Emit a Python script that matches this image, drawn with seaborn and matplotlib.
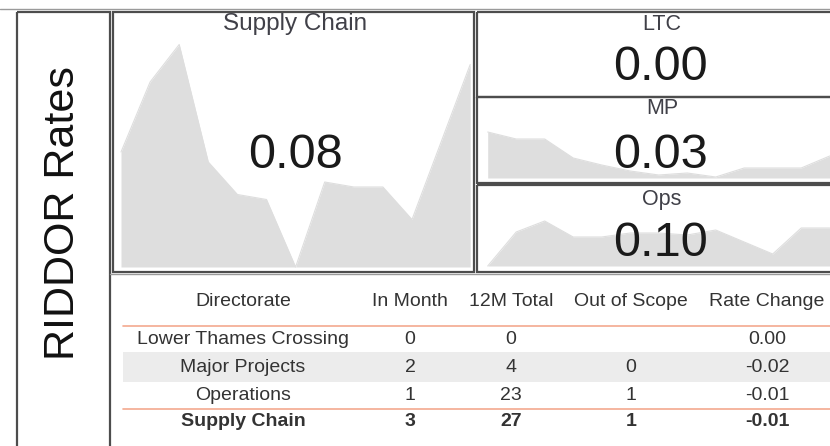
import matplotlib
matplotlib.use("Agg")
import numpy as np
import pandas as pd
import seaborn as sns
import matplotlib.pyplot as plt
from matplotlib.patches import Rectangle

# Data
panel_names = ["Supply Chain", "LTC", "MP", "Ops"]
panel_rates = ["0.08", "0.00", "0.03", "0.10"]

supply_chain_trend = [0.046, 0.074, 0.089, 0.042, 0.029, 0.027, 0.000,
                      0.034, 0.032, 0.032, 0.019, 0.050, 0.081]
ltc_trend = [0.0] * 13
mp_trend = [0.046, 0.039, 0.039, 0.020, 0.013, 0.007, 0.003,
            0.005, 0.001, 0.010, 0.010, 0.010, 0.022]
ops_trend = [0.000, 0.034, 0.045, 0.029, 0.029, 0.033, 0.033,
             0.031, 0.036, 0.024, 0.012, 0.038, 0.038]

table_headers = ["Directorate", "In Month", "12M Total", "Out of Scope", "Rate Change"]
directorates = ["Lower Thames Crossing", "Major Projects", "Operations", "Supply Chain"]
in_month = ["0", "2", "1", "3"]
total_12m = ["0", "4", "23", "27"]
out_of_scope = ["", "0", "1", "1"]
rate_change = ["0.00", "-0.02", "-0.01", "-0.01"]

# Style
sns.set_theme(style="white")
plt.rcParams['font.family'] = ['Liberation Sans', 'DejaVu Sans']

W, H = 830, 446
BORDER = "#4d4d4d"
FILL = "#dedede"
TEXT = "#333333"

fig = plt.figure(figsize=(W / 100, H / 100), dpi=100)


def px_axes(x0, y0, x1, y1, z=1):
    """Axes placed by pixel box (top-left origin)."""
    ax = fig.add_axes([x0 / W, 1 - y1 / H, (x1 - x0) / W, (y1 - y0) / H], zorder=z)
    ax.set_axis_off()
    return ax


def sparkline(box, values, first_px, step_px, base_px, scale):
    x0, y0, x1, y1 = box
    ax = px_axes(x0, y0, x1, y1)
    df = pd.DataFrame({"i": np.arange(len(values)), "v": values})
    ax.fill_between(df["i"], 0, df["v"], color=FILL, linewidth=0)
    sns.lineplot(data=df, x="i", y="v", ax=ax, color=FILL, linewidth=0.8)
    ax.set_xlim(-(first_px - x0) / step_px, (x1 - first_px) / step_px)
    ax.set_ylim(-(y1 - base_px) / scale, (base_px - y0) / scale)
    ax.set_axis_off()
    return ax


# Sparklines
sparkline((113, 12, 474, 272), supply_chain_trend, 121, 29.1, 267, 2500)
sparkline((477, 97, 830, 183), mp_trend, 487.7, 28.5, 178, 1000)
sparkline((477, 185, 830, 272), ops_trend, 487.7, 28.5, 266, 1000)

# Overlay in pixel space for borders and text
ov = px_axes(0, 0, W, H, z=5)
ov.set_xlim(0, W)
ov.set_ylim(H, 0)
ov.patch.set_alpha(0)

ov.plot([0, W], [9, 9], color="#9a9a9a", lw=1)
boxes = [(17, 12, 110, 450), (113, 12, 474, 272),
         (477, 12, 832, 97), (477, 97, 832, 183), (477, 185, 832, 272)]
for bx0, by0, bx1, by1 in boxes:
    ov.add_patch(Rectangle((bx0, by0), bx1 - bx0, by1 - by0, fill=False,
                           edgecolor=BORDER, lw=1.6))
ov.plot([110, W], [274, 274], color="#9a9a9a", lw=1)

ov.text(63, 213, "RIDDOR Rates", rotation=90, ha="center", va="center",
        fontsize=31, color="#111111")

# Panel titles and values
title_pos = [(295, 24), (662, 24), (662, 109), (662, 200)]
value_pos = [(295, 155), (660, 67), (660, 155), (660, 243)]
for name, rate, (tx, ty), (vx, vy) in zip(panel_names, panel_rates, title_pos, value_pos):
    ov.text(tx, ty, name, ha="center", va="center",
            fontsize=17.5 if name == "Supply Chain" else 15.5, color="#404048")
    ov.text(vx, vy, rate, ha="center", va="center", fontsize=35, color="#1a1a1a")

# Table
col_x = [243, 410, 511, 631, 767]
ov.add_patch(Rectangle((123, 352), W - 123, 30, color="#ececec", lw=0, zorder=0))
ov.plot([123, W], [326, 326], color="#f4a98f", lw=1.2)
ov.plot([123, W], [408.5, 408.5], color="#f4a98f", lw=1.2)

for cx, head in zip(col_x, table_headers):
    ov.text(cx, 301, head, ha="center", va="center", fontsize=14, color=TEXT)

row_y = [340, 367.5, 395, 422]
for k, ry in enumerate(row_y):
    weight = "bold" if k == len(row_y) - 1 else "normal"
    cells = [directorates[k], in_month[k], total_12m[k], out_of_scope[k], rate_change[k]]
    for cx, cell in zip(col_x, cells):
        ov.text(cx, ry, cell, ha="center", va="center", fontsize=14,
                color=TEXT, fontweight=weight)

fig.savefig("out.png", dpi=100)
